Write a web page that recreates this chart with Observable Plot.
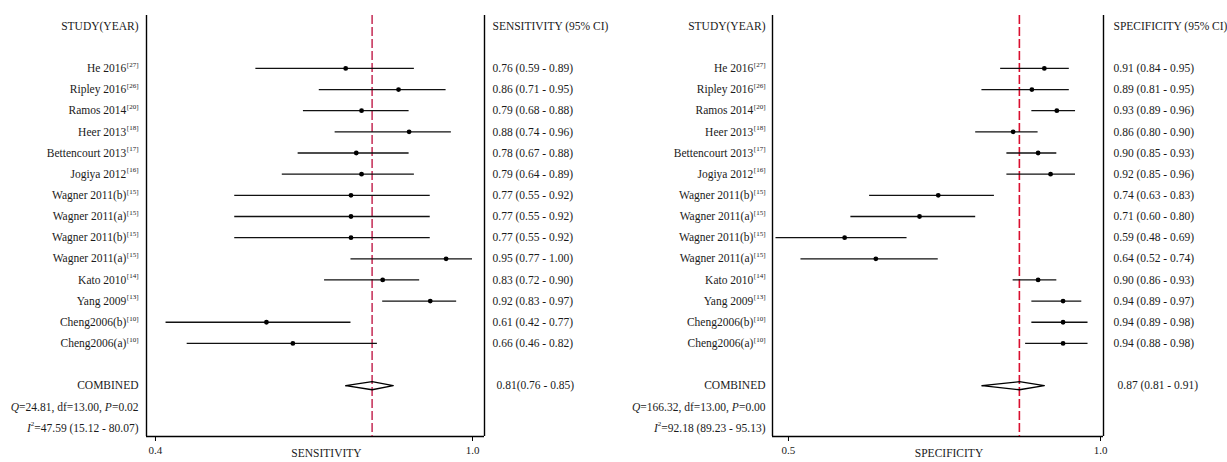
<!DOCTYPE html>
<html>
<head>
<meta charset="utf-8">
<script src="https://cdn.jsdelivr.net/npm/d3@7"></script>
<script src="https://cdn.jsdelivr.net/npm/@observablehq/plot@0.6"></script>
<style>
  html, body { margin: 0; padding: 0; background: #fff; overflow: hidden; }
  #wrap { display: flex; flex-direction: row; width: 1227px; height: 462px; }
</style>
</head>
<body>
<div id="wrap"></div>
<script>
// ---------- DATA ----------
const studies = ["He 2016","Ripley 2016","Ramos 2014","Heer 2013","Bettencourt 2013","Jogiya 2012","Wagner 2011(b)","Wagner 2011(a)","Wagner 2011(b)","Wagner 2011(a)","Kato 2010","Yang 2009","Cheng2006(b)","Cheng2006(a)"];
const refs = ["27","26","20","18","17","16","15","15","15","15","14","13","10","10"];
const sens   = [0.76,0.86,0.79,0.88,0.78,0.79,0.77,0.77,0.77,0.95,0.83,0.92,0.61,0.66];
const sensLo = [0.59,0.71,0.68,0.74,0.67,0.64,0.55,0.55,0.55,0.77,0.72,0.83,0.42,0.46];
const sensHi = [0.89,0.95,0.88,0.96,0.88,0.89,0.92,0.92,0.92,1.00,0.90,0.97,0.77,0.82];
const spec   = [0.91,0.89,0.93,0.86,0.90,0.92,0.74,0.71,0.59,0.64,0.90,0.94,0.94,0.94];
const specLo = [0.84,0.81,0.89,0.80,0.85,0.85,0.63,0.60,0.48,0.52,0.86,0.89,0.89,0.88];
const specHi = [0.95,0.95,0.96,0.90,0.93,0.96,0.83,0.80,0.69,0.74,0.93,0.97,0.98,0.98];
const sensPooled = {est: 0.81, lo: 0.76, hi: 0.85};
const specPooled = {est: 0.87, lo: 0.81, hi: 0.91};
const sensStats = {Q: "24.81", df: "13.00", P: "0.02", I2: "47.59 (15.12 - 80.07)"};
const specStats = {Q: "166.32", df: "13.00", P: "0.00", I2: "92.18 (89.23 - 95.13)"};
const sensTicks = [0.4, 1.0];
const specTicks = [0.5, 1.0];

// ---------- HELPERS ----------
const FONT = "Liberation Serif";
const FS = 11.5, SUPFS = 7, INK = "#1a1a1a";
const ctx = document.createElement("canvas").getContext("2d");
function tw(s, size, italic) {
  ctx.font = `${italic ? "italic " : ""}${size}px "${FONT}"`;
  return ctx.measureText(s).width;
}
const fmt2 = d3.format(".2f");

// rich text right-aligned at frame-left + endDx
function rich(segs, row, endDx) {
  const ws = segs.map(s => tw(s.t, s.sup ? SUPFS : FS, s.i));
  const total = d3.sum(ws);
  let off = endDx - total;
  return segs.map((s, k) => {
    const m = Plot.text([{row, t: s.t}], {
      y: "row", text: "t", frameAnchor: "left", textAnchor: "start",
      dx: off, dy: s.sup ? -4 : 0, fontSize: s.sup ? SUPFS : FS,
      fontStyle: s.i ? "italic" : "normal", fill: INK
    });
    off += ws[k];
    return m;
  });
}

function panel(opts) {
  const {est, lo, hi, pooled, stats, ticks, header, axisLabel, domain, width,
         marginLeft, marginRight, redColor, leftDx, rightDx, pooledText, pooledDx} = opts;
  const rows = studies.map((s, i) => ({
    name: s, ref: "[" + refs[i] + "]", row: i + 2,
    est: est[i], lo: lo[i], hi: hi[i],
    label: `${fmt2(est[i])} (${fmt2(lo[i])} - ${fmt2(hi[i])})`
  }));
  const supW = tw("[27]", SUPFS, false);
  const cRow = 17, hh = 0.19;
  const diamond = [
    {x: pooled.lo, y: cRow}, {x: pooled.est, y: cRow - hh},
    {x: pooled.hi, y: cRow}, {x: pooled.est, y: cRow + hh},
    {x: pooled.lo, y: cRow}
  ];
  return Plot.plot({
    width, height: 462,
    marginLeft, marginRight, marginTop: 15, marginBottom: 26,
    style: {fontFamily: FONT, fontSize: FS + "px", background: "#fff", overflow: "visible"},
    x: {domain},
    y: {domain: [19.4, -0.5], axis: null},
    marks: [
      Plot.ruleX(domain, {stroke: "#000", strokeWidth: 1.4}),
      Plot.ruleY([19.4], {stroke: "#000", strokeWidth: 1.4}),
      Plot.axisX({ticks, tickFormat: d3.format(".1f"), tickSize: 5, tickPadding: 5,
                  label: null, fontSize: 11, fill: INK, stroke: "#000"}),
      Plot.text([axisLabel], {frameAnchor: "bottom", dx: 11, dy: 20, fontSize: FS, fill: INK}),
      Plot.ruleX([pooled.est], {stroke: redColor, strokeWidth: 1.6, strokeDasharray: "9,3"}),
      Plot.ruleY(rows, {x1: "lo", x2: "hi", y: "row", stroke: "#111", strokeWidth: 1.3}),
      Plot.dot(rows, {x: "est", y: "row", r: 2.4, fill: "#000", stroke: "none"}),
      Plot.line(diamond, {x: "x", y: "y", stroke: "#000", strokeWidth: 1.3, curve: "linear"}),
      Plot.text([{row: 0, t: "STUDY(YEAR)"}], {y: "row", text: "t", frameAnchor: "left", textAnchor: "end", dx: leftDx, fill: INK}),
      Plot.text(rows, {y: "row", text: "name", frameAnchor: "left", textAnchor: "end", dx: leftDx - supW - 0.5, fill: INK}),
      Plot.text(rows, {y: "row", text: "ref", frameAnchor: "left", textAnchor: "end", dx: leftDx, dy: -4, fontSize: SUPFS, fill: INK}),
      Plot.text([{row: cRow, t: "COMBINED"}], {y: "row", text: "t", frameAnchor: "left", textAnchor: "end", dx: leftDx, fill: INK}),
      ...rich([{t: "Q", i: true}, {t: `=${stats.Q}, df=${stats.df}, `}, {t: "P", i: true}, {t: `=${stats.P}`}], 18, leftDx),
      ...rich([{t: "I", i: true}, {t: "2", sup: true}, {t: `=${stats.I2}`}], 19, leftDx),
      Plot.text([{row: 0, t: header}], {y: "row", text: "t", frameAnchor: "right", textAnchor: "start", dx: rightDx, fill: INK}),
      Plot.text(rows, {y: "row", text: "label", frameAnchor: "right", textAnchor: "start", dx: rightDx, fill: INK}),
      Plot.text([{row: cRow, t: pooledText}], {y: "row", text: "t", frameAnchor: "right", textAnchor: "start", dx: rightDx + pooledDx, fill: INK})
    ]
  });
}

const wrap = document.getElementById("wrap");
wrap.appendChild(panel({
  est: sens, lo: sensLo, hi: sensHi, pooled: sensPooled, stats: sensStats, ticks: sensTicks,
  header: "SENSITIVITY (95% CI)", axisLabel: "SENSITIVITY",
  domain: [0.383, 1.0227], width: 613, marginLeft: 146, marginRight: 129,
  redColor: "#c8385f", leftDx: -8, rightDx: 8,
  pooledText: `${fmt2(sensPooled.est)}(${fmt2(sensPooled.lo)} - ${fmt2(sensPooled.hi)})`, pooledDx: 4
}));
wrap.appendChild(panel({
  est: spec, lo: specLo, hi: specHi, pooled: specPooled, stats: specStats, ticks: specTicks,
  header: "SPECIFICITY (95% CI)", axisLabel: "SPECIFICITY",
  domain: [0.4744, 1.0048], width: 614, marginLeft: 159, marginRight: 124,
  redColor: "#d90f2f", leftDx: -7, rightDx: 10,
  pooledText: `${fmt2(specPooled.est)} (${fmt2(specPooled.lo)} - ${fmt2(specPooled.hi)})`, pooledDx: 4
}));
</script>
</body>
</html>
